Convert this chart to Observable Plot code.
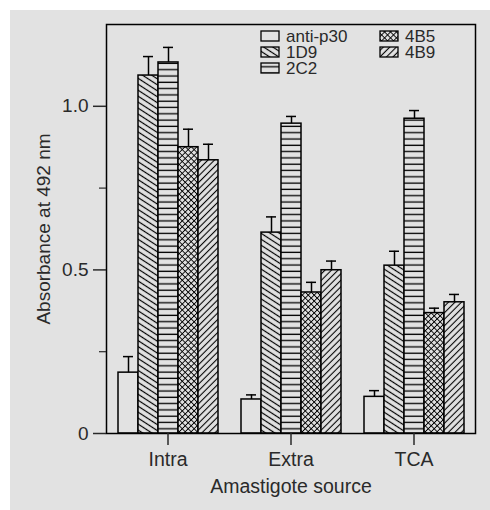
<!DOCTYPE html>
<html>
<head>
<meta charset="utf-8">
<script src="https://cdn.jsdelivr.net/npm/d3@7"></script>
<script src="https://cdn.jsdelivr.net/npm/@observablehq/plot@0.6"></script>
<style>
  body { margin: 0; background: #ffffff; }
  #panel { position: absolute; left: 10px; top: 10px; width: 480px; height: 500px; background: #e2e2e2; }
  #legend { position: absolute; left: 235px; top: 16px; }
  text { font-family: "Liberation Sans", Arial, sans-serif; }
</style>
</head>
<body>
<svg width="0" height="0" style="position:absolute">
  <defs>
    <pattern id="p1D9" patternUnits="userSpaceOnUse" width="5" height="5" patternTransform="rotate(33)">
      <rect width="5" height="5" fill="#e2e2e2"/>
      <line x1="0" y1="2.5" x2="5" y2="2.5" stroke="#000" stroke-width="1.2"/>
    </pattern>
    <pattern id="p2C2" patternUnits="userSpaceOnUse" width="6.3" height="6.3">
      <rect width="6.3" height="6.3" fill="#e2e2e2"/>
      <line x1="0" y1="3" x2="6.3" y2="3" stroke="#000" stroke-width="1.3"/>
    </pattern>
    <pattern id="p4B5" patternUnits="userSpaceOnUse" width="4.2" height="4.2" patternTransform="rotate(45)">
      <rect width="4.2" height="4.2" fill="#e2e2e2"/>
      <line x1="0" y1="2.1" x2="4.2" y2="2.1" stroke="#000" stroke-width="0.9"/>
      <line x1="2.1" y1="0" x2="2.1" y2="4.2" stroke="#000" stroke-width="0.9"/>
    </pattern>
    <pattern id="p4B9" patternUnits="userSpaceOnUse" width="4.6" height="4.6" patternTransform="rotate(-45)">
      <rect width="4.6" height="4.6" fill="#e2e2e2"/>
      <line x1="0" y1="2.3" x2="4.6" y2="2.3" stroke="#000" stroke-width="1.1"/>
    </pattern>
  </defs>
</svg>
<div id="panel"></div>
<script>
// ---- data ----
const groups = ["Intra", "Extra", "TCA"];
const series = ["anti-p30", "1D9", "2C2", "4B5", "4B9"];
const antiP30 = [0.186, 0.104, 0.112];
const mab1D9  = [1.094, 0.614, 0.513];
const mab2C2  = [1.134, 0.947, 0.962];
const mab4B5  = [0.875, 0.431, 0.368];
const mab4B9  = [0.835, 0.499, 0.401];
const errAntiP30 = [0.049, 0.014, 0.019];
const err1D9     = [0.058, 0.048, 0.044];
const err2C2     = [0.046, 0.022, 0.025];
const err4B5     = [0.055, 0.031, 0.015];
const err4B9     = [0.049, 0.028, 0.024];
const yTicks = [0, 0.5, 1.0];
const yMinorTicks = [0.25, 0.75];
const xLabel = "Amastigote source";
const yLabel = "Absorbance at 492 nm";

const seriesValues = [antiP30, mab1D9, mab2C2, mab4B5, mab4B9];
const seriesErrors = [errAntiP30, err1D9, err2C2, err4B5, err4B9];
const fills = ["#e2e2e2", "url(#p1D9)", "url(#p2C2)", "url(#p4B5)", "url(#p4B9)"];

const data = groups.flatMap((g, i) => series.map((s, j) => ({
  group: g, series: s, value: seriesValues[j][i], err: seriesErrors[j][i]
})));

const font = "'Liberation Sans', Arial, sans-serif";

const chart = Plot.plot({
  width: 480,
  height: 500,
  marginTop: 14,
  marginRight: 15,
  marginBottom: 77,
  marginLeft: 96,
  style: { background: "transparent", fontSize: "19px", fontFamily: font, color: "#2a2a2a" },
  fx: { domain: groups, padding: 0 },
  x: { domain: series, axis: null, paddingInner: 0, paddingOuter: 0.5 },
  y: { domain: [0, 1.25] },
  color: { domain: series, range: fills },
  marks: [
    Plot.barY(data, { fx: "group", x: "series", y: "value", fill: "series", stroke: "#000", strokeWidth: 1.5 }),
    Plot.ruleX(data, { fx: "group", x: "series", y1: "value", y2: d => d.value + d.err, stroke: "#000", strokeWidth: 1.5 }),
    Plot.tickY(data, { fx: "group", x: "series", y: d => d.value + d.err, inset: 5, stroke: "#000", strokeWidth: 1.5 }),
    Plot.frame({ facet: "super", stroke: "#000", strokeWidth: 1.5 }),
    Plot.axisY({ ticks: yTicks, tickSize: 13, tickPadding: 5, strokeWidth: 1.5, fontSize: 19,
      tickFormat: d => d === 0 ? "0" : d.toFixed(1),
      label: yLabel, labelAnchor: "center", labelArrow: "none", labelOffset: 70 }),
    Plot.axisY({ ticks: yMinorTicks, tickSize: 7, strokeWidth: 1.2, tickFormat: () => "", label: null }),
    Plot.axisFx({ anchor: "bottom", tickSize: 12, tickPadding: 7, strokeWidth: 1.5, fontSize: 19.5,
      label: xLabel, labelAnchor: "center", labelArrow: "none", labelOffset: 59 })
  ]
});
document.getElementById("panel").appendChild(chart);

// ---- legend ----
const legendCols = [[0, 1, 2], [3, 4]];
const legendColX = [16, 135];
const ns = "http://www.w3.org/2000/svg";
const leg = document.createElementNS(ns, "svg");
leg.setAttribute("id", "legend");
leg.setAttribute("width", 230);
leg.setAttribute("height", 60);
legendCols.forEach((col, ci) => {
  col.forEach((si, ri) => {
    const cy = 10 + ri * 16;
    const r = document.createElementNS(ns, "rect");
    r.setAttribute("x", legendColX[ci]);
    r.setAttribute("y", cy - 5);
    r.setAttribute("width", 18);
    r.setAttribute("height", 10);
    r.setAttribute("fill", fills[si]);
    r.setAttribute("stroke", "#000");
    r.setAttribute("stroke-width", 1.3);
    leg.appendChild(r);
    const t = document.createElementNS(ns, "text");
    t.setAttribute("x", legendColX[ci] + 25);
    t.setAttribute("y", cy);
    t.setAttribute("dy", "0.35em");
    t.setAttribute("font-size", 17);
    t.setAttribute("fill", "#2a2a2a");
    t.textContent = series[si];
    leg.appendChild(t);
  });
});
document.getElementById("panel").appendChild(leg);
</script>
</body>
</html>
